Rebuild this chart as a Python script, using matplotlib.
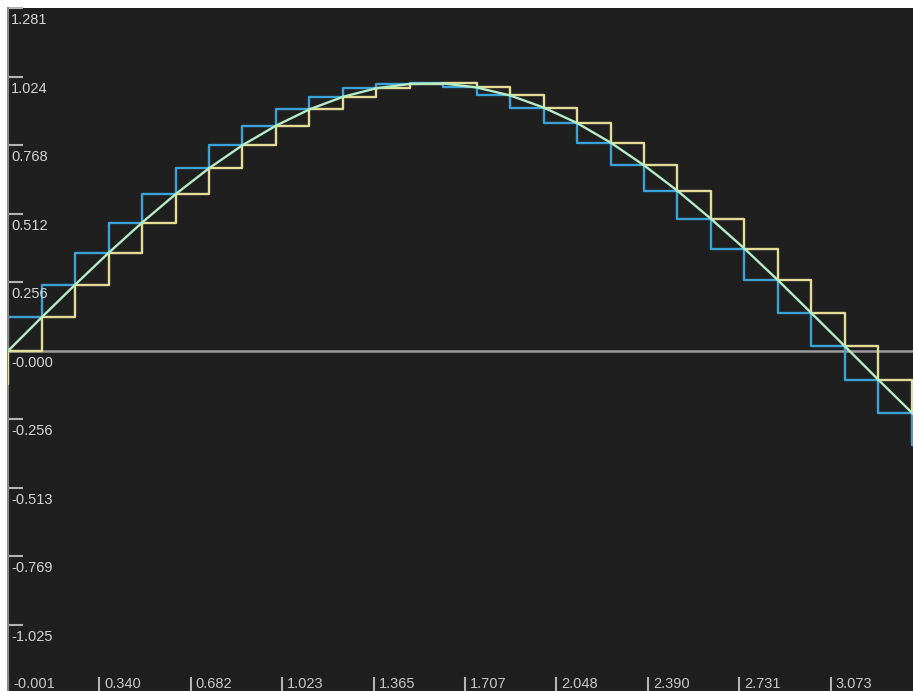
import matplotlib
matplotlib.use("Agg")
import matplotlib.pyplot as plt
from matplotlib import transforms

plt.rcParams["font.family"] = ["Liberation Sans", "DejaVu Sans"]

# sample points (x step 0.125)
x_pts = [-0.125, 0.0, 0.125, 0.25, 0.375, 0.5, 0.625, 0.75, 0.875, 1.0,
         1.125, 1.25, 1.375, 1.5, 1.625, 1.75, 1.875, 2.0, 2.125, 2.25,
         2.375, 2.5, 2.625, 2.75, 2.875, 3.0, 3.125, 3.25, 3.375, 3.5]
y_pts = [-0.125, 0.000, 0.125, 0.247, 0.366, 0.479, 0.585, 0.682, 0.768, 0.841,
         0.902, 0.949, 0.981, 0.997, 0.999, 0.984, 0.954, 0.909, 0.851, 0.778,
         0.693, 0.598, 0.493, 0.382, 0.264, 0.141, 0.017, -0.108, -0.231, -0.351]

# axis ticks
x_ticks = [-0.001, 0.340, 0.682, 1.023, 1.365, 1.707, 2.048, 2.390, 2.731, 3.073]
x_tick_labels = ["-0.001", "0.340", "0.682", "1.023", "1.365",
                 "1.707", "2.048", "2.390", "2.731", "3.073"]
y_ticks = [1.281, 1.024, 0.768, 0.512, 0.256, 0.0, -0.256, -0.513, -0.769, -1.025]
y_tick_labels = ["1.281", "1.024", "0.768", "0.512", "0.256",
                 "-0.000", "-0.256", "-0.513", "-0.769", "-1.025"]

bg = "#1f1f1f"
fig = plt.figure(figsize=(9.13, 6.91), dpi=100, facecolor="white")
ax = fig.add_axes([8 / 913, 0, 905 / 913, 683 / 691])
ax.set_facecolor(bg)

ax.axhline(0, color="#9c9c9c", lw=1.8, zorder=1)

# step versions of the samples + the smooth curve
ax.plot(x_pts, y_pts, drawstyle="steps-pre", color="#3ca2d8", lw=1.7, zorder=2)
ax.plot(x_pts, y_pts, drawstyle="steps-post", color="#e2dc96", lw=1.7, zorder=3)
ax.plot(x_pts, y_pts, color="#b4ecc4", lw=1.7, zorder=4)

ax.set_xlim(-0.001, 3.380)
ax.set_ylim(-1.272, 1.281)

for s in ["top", "right", "bottom"]:
    ax.spines[s].set_visible(False)
ax.spines["left"].set_color("#8a8a8a")
ax.spines["left"].set_linewidth(1.5)

ax.set_xticks(x_ticks)
ax.set_yticks(y_ticks)
ax.tick_params(axis="x", direction="in", length=10, width=1.5, color="#b4b4b4",
               labelbottom=False)
ax.tick_params(axis="y", direction="in", length=11, width=1.5, color="#b4b4b4",
               labelleft=False)

# labels sit inside the plot: below the y ticks, right of the x ticks
ytr = transforms.offset_copy(ax.get_yaxis_transform(), fig=fig, x=3, y=-5, units="dots")
for v, lab in zip(y_ticks, y_tick_labels):
    ax.text(0, v, lab, transform=ytr, ha="left", va="top",
            fontsize=10.5, color="#d4d4d4")

xtr = transforms.offset_copy(ax.get_xaxis_transform(), fig=fig, x=5, y=0, units="dots")
for v, lab in zip(x_ticks, x_tick_labels):
    ax.text(v, 0, lab, transform=xtr, ha="left", va="bottom",
            fontsize=10.5, color="#c8c8c8")

fig.savefig("out.png", dpi=100, facecolor=fig.get_facecolor())
